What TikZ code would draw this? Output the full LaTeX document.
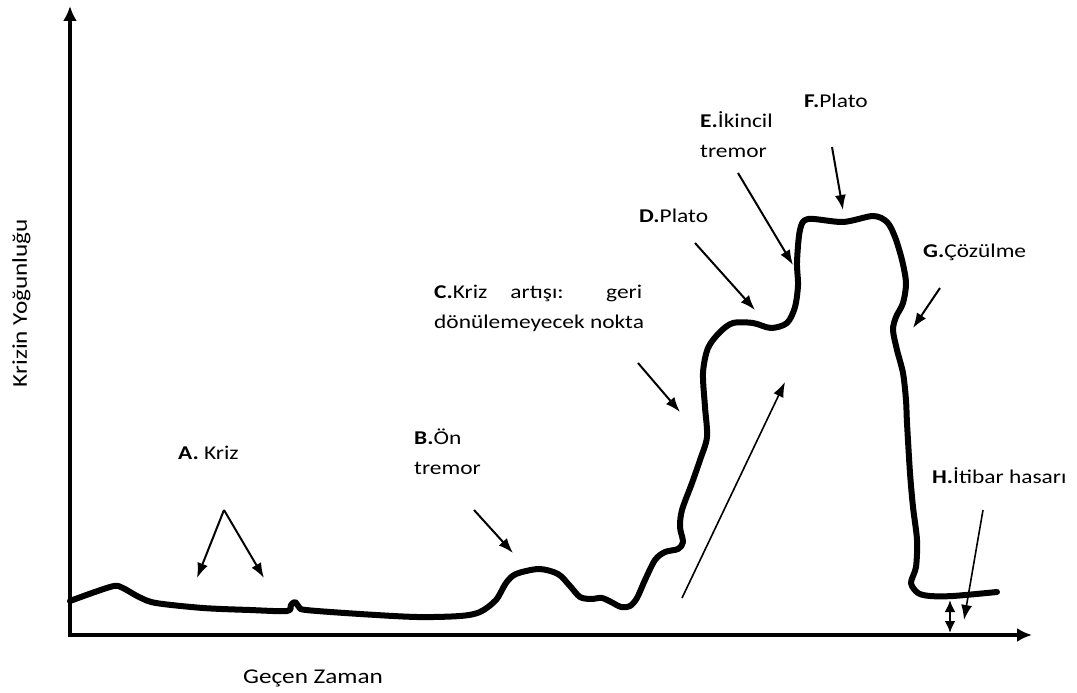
\documentclass[tikz,border=0pt]{standalone}
\usepackage{fontspec}
\setmainfont{Carlito}[FakeStretch=1.2]
\usepackage{tikz}
\usetikzlibrary{arrows.meta,positioning,calc}

\begin{document}
\begin{tikzpicture}[x=1pt,y=-1pt,
    lbl/.style={anchor=north west,inner sep=0pt,align=left,font=\fontsize{19.5}{30}\selectfont},
    axlbl/.style={inner sep=0pt,font=\fontsize{21}{26}\selectfont},
    pointer/.style={-{Latex[length=15pt,width=11pt]},line width=2pt},
    axis/.style={-{Latex[length=15pt,width=14pt]},line width=4pt},
    curve/.style={line width=6pt,line join=round,line cap=round}]
      \useasboundingbox (0,0) rectangle (1077,693);

      \coordinate (o) at (70,635);
      \coordinate (ytop) at (70,6);
      \coordinate (xend) at (1032,635);
      \draw[axis] ($(o)+(0,2)$) -- (ytop);
      \draw[axis] ($(o)+(-2,0)$) -- (xend);
      \node[axlbl,rotate=90,anchor=base] (ylab) at (27,303) {Krizin Yoğunluğu};
      \node[axlbl,anchor=base] (xlab) at (313,683) {Geçen Zaman};

      \draw[curve] plot[smooth,tension=0.5] coordinates {
        (70,601) (92,593) (114,586) (123,588) (139,597) (156,603) (203,608)
        (250,610) (287,611) (291,605) (295,602) (299,607) (306,610) (360,614)
        (417,617) (460,616) (480,612) (496,600) (506,583) (516,574) (539,569)
        (558,574) (570,586) (580,597) (591,599) (602,598) (613,603) (621,607)
        (630,606) (637,598) (645,580) (655,560) (665,552) (678,549) (683,542)
        (680,527) (682,510) (692,483) (700,460) (707,437) (705,407) (703,373)
        (708,348) (720,332) (733,323) (753,323) (771,328) (787,323) (795,307)
        (798,285) (797,262) (800,230) (808,219) (843,222) (873,216) (887,222)
        (895,237) (902,260) (906,283) (903,303) (896,317) (893,330) (897,350)
        (903,373) (906,400) (907,423) (910,473) (913,507) (917,540) (916,567)
        (911,583) (918,593) (930,596) (953,596) (997,592)};

      \node[lbl] (A) at (178,438) {\strut\textbf{A.} Kriz};
      \node[lbl] (B) at (414,423) {\strut\textbf{B.}Ön\\tremor};
      \node[lbl] (C) at (434,277) {\strut\makebox[208pt][s]{\textbf{C.}Kriz artışı: geri}\\dönülemeyecek nokta};
      \node[lbl] (D) at (639,201) {\strut\textbf{D.}Plato};
      \node[lbl] (E) at (700,106) {\strut\textbf{E.}İkincil\\tremor};
      \node[lbl] (F) at (804,86) {\strut\textbf{F.}Plato};
      \node[lbl] (G) at (923,236) {\strut\textbf{G.}Çözülme};
      \node[lbl] (H) at (932,462) {\strut\textbf{H.}İtibar hasarı};

      \coordinate (a0) at (224,510);
      \coordinate (a1) at (197,578);
      \coordinate (a2) at (264,578);
      \coordinate (b0) at (474,510);
      \coordinate (b1) at (513,553);
      \coordinate (c0) at (638,363);
      \coordinate (c1) at (680,412);
      \coordinate (d0) at (695,243);
      \coordinate (d1) at (755,310);
      \coordinate (e0) at (738,173);
      \coordinate (e1) at (793,265);
      \coordinate (f0) at (832,147);
      \coordinate (f1) at (843,210);
      \coordinate (g0) at (940,288);
      \coordinate (g1) at (913,328);
      \coordinate (h0) at (983,510);
      \coordinate (h1) at (964,620);
      \coordinate (r0) at (682,598);
      \coordinate (r1) at (785,382);
      \coordinate (dm0) at (950,600);
      \coordinate (dm1) at (950,633);

      \draw[pointer] (a0) -- (a1);
      \draw[pointer] (a0) -- (a2);
      \draw[pointer] (b0) -- (b1);
      \draw[pointer] (c0) -- (c1);
      \draw[pointer] (d0) -- (d1);
      \draw[pointer] (e0) -- (e1);
      \draw[pointer] (f0) -- (f1);
      \draw[pointer] (g0) -- (g1);
      \draw[pointer,line width=1.6pt] (h0) -- (h1);
      \draw[pointer,line width=1.6pt] (r0) -- (r1);
      \draw[{Latex[length=12pt,width=11pt]}-{Latex[length=12pt,width=11pt]},line width=2.5pt] (dm0) -- (dm1);
\end{tikzpicture}
\end{document}
